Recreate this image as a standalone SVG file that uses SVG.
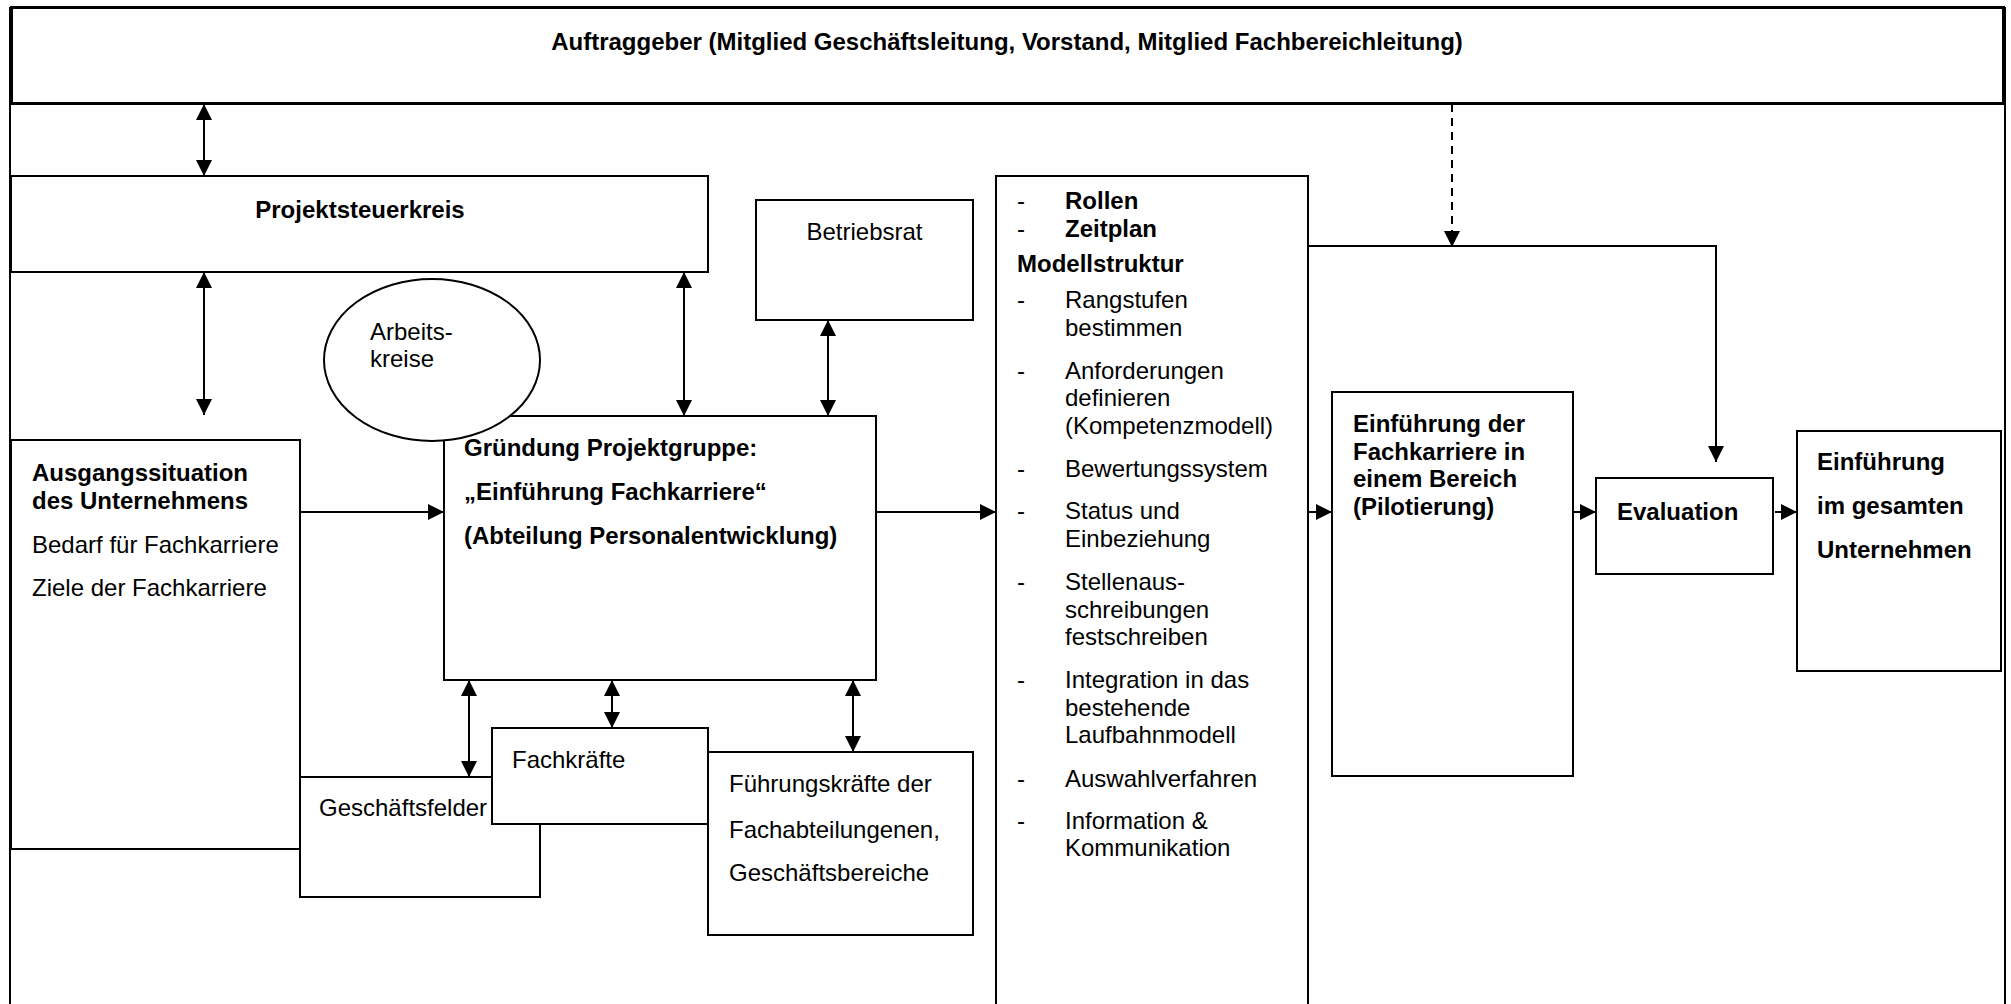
<svg xmlns="http://www.w3.org/2000/svg" width="2011" height="1004" viewBox="0 0 2011 1004">
  <defs>
    <style>
      text { font-family: "Liberation Sans", Arial, sans-serif; font-size: 24px; fill: #000; }
      .b { font-weight: bold; }
      .box { fill: #fff; stroke: #000; stroke-width: 2; }
      .ln { fill: none; stroke: #000; stroke-width: 2; }
      .dash { fill: none; stroke: #000; stroke-width: 2; stroke-dasharray: 8 6; }
    </style>
    <marker id="head" markerUnits="userSpaceOnUse" markerWidth="16" markerHeight="16" refX="16" refY="8" orient="auto-start-reverse">
      <path d="M0,0 L16,8 L0,16 z" fill="#000"/>
    </marker>
  </defs>
  <rect width="2011" height="1004" fill="#fff"/>

  <!-- outer frame sides running to the bottom edge -->
  <path class="ln" d="M10,7 V1004 M2005,7 V1004"/>

  <g id="auftraggeber">
    <rect x="11.5" y="7.5" width="1992" height="96" fill="#fff" stroke="#000" stroke-width="3"/>
    <text class="b" x="1007" y="50" text-anchor="middle">Auftraggeber (Mitglied Geschäftsleitung, Vorstand, Mitglied Fachbereichleitung)</text>
  </g>

  <g id="projektsteuerkreis">
    <rect class="box" x="11" y="176" width="697" height="96"/>
    <text class="b" x="360" y="218" text-anchor="middle">Projektsteuerkreis</text>
  </g>

  <g id="betriebsrat">
    <rect class="box" x="756" y="200" width="217" height="120"/>
    <text x="864.5" y="240" text-anchor="middle">Betriebsrat</text>
  </g>

  <g id="ausgangssituation">
    <rect class="box" x="11" y="440" width="289" height="409"/>
    <text class="b" x="32" y="481">Ausgangssituation</text>
    <text class="b" x="32" y="509">des Unternehmens</text>
    <text x="32" y="553">Bedarf für Fachkarriere</text>
    <text x="32" y="596">Ziele der Fachkarriere</text>
  </g>

  <g id="projektgruppe">
    <rect class="box" x="444" y="416" width="432" height="264"/>
    <text class="b" x="464" y="456">Gründung Projektgruppe:</text>
    <text class="b" x="464" y="500">„Einführung Fachkarriere“</text>
    <text class="b" x="464" y="544">(Abteilung Personalentwicklung)</text>
  </g>

  <g id="arbeitskreise">
    <ellipse cx="432" cy="360" rx="108" ry="81" fill="#fff" stroke="#000" stroke-width="2"/>
    <text x="370" y="340">Arbeits-</text>
    <text x="370" y="367">kreise</text>
  </g>

  <g id="geschaeftsfelder">
    <rect class="box" x="300" y="777" width="240" height="120"/>
    <text x="319" y="816">Geschäftsfelder</text>
  </g>

  <g id="fachkraefte">
    <rect class="box" x="492" y="728" width="216" height="96"/>
    <text x="512" y="768">Fachkräfte</text>
  </g>

  <g id="fuehrungskraefte">
    <rect class="box" x="708" y="752" width="265" height="183"/>
    <text x="729" y="792">Führungskräfte der</text>
    <text x="729" y="838">Fachabteilungenen,</text>
    <text x="729" y="881">Geschäftsbereiche</text>
  </g>

  <g id="modellstruktur">
    <path class="box" d="M996,1005 V176 H1308 V1005"/>
    <g>
      <text x="1017" y="209">-</text><text class="b" x="1065" y="209">Rollen</text>
      <text x="1017" y="237">-</text><text class="b" x="1065" y="237">Zeitplan</text>
      <text class="b" x="1017" y="272">Modellstruktur</text>
      <text x="1017" y="308">-</text><text x="1065" y="308">Rangstufen</text>
      <text x="1065" y="336">bestimmen</text>
      <text x="1017" y="379">-</text><text x="1065" y="379">Anforderungen</text>
      <text x="1065" y="406">definieren</text>
      <text x="1065" y="434">(Kompetenzmodell)</text>
      <text x="1017" y="477">-</text><text x="1065" y="477">Bewertungssystem</text>
      <text x="1017" y="519">-</text><text x="1065" y="519">Status und</text>
      <text x="1065" y="547">Einbeziehung</text>
      <text x="1017" y="590">-</text><text x="1065" y="590">Stellenaus-</text>
      <text x="1065" y="618">schreibungen</text>
      <text x="1065" y="645">festschreiben</text>
      <text x="1017" y="688">-</text><text x="1065" y="688">Integration in das</text>
      <text x="1065" y="716">bestehende</text>
      <text x="1065" y="743">Laufbahnmodell</text>
      <text x="1017" y="787">-</text><text x="1065" y="787">Auswahlverfahren</text>
      <text x="1017" y="829">-</text><text x="1065" y="829">Information &amp;</text>
      <text x="1065" y="856">Kommunikation</text>
    </g>
  </g>

  <g id="pilotierung">
    <rect class="box" x="1332" y="392" width="241" height="384"/>
    <text class="b" x="1353" y="432">Einführung der</text>
    <text class="b" x="1353" y="460">Fachkarriere in</text>
    <text class="b" x="1353" y="487">einem Bereich</text>
    <text class="b" x="1353" y="515">(Pilotierung)</text>
  </g>

  <g id="evaluation">
    <rect class="box" x="1596" y="478" width="177" height="96"/>
    <text class="b" x="1617" y="520">Evaluation</text>
  </g>

  <g id="gesamtunternehmen">
    <rect class="box" x="1797" y="431" width="204" height="240"/>
    <text class="b" x="1817" y="470">Einführung</text>
    <text class="b" x="1817" y="514">im gesamten</text>
    <text class="b" x="1817" y="558">Unternehmen</text>
  </g>

  <g id="connectors">
    <!-- two-way links -->
    <line class="ln" x1="204" y1="104" x2="204" y2="176" marker-start="url(#head)" marker-end="url(#head)"/>
    <line class="ln" x1="204" y1="272" x2="204" y2="415" marker-start="url(#head)" marker-end="url(#head)"/>
    <line class="ln" x1="684" y1="272" x2="684" y2="416" marker-start="url(#head)" marker-end="url(#head)"/>
    <line class="ln" x1="828" y1="320" x2="828" y2="416" marker-start="url(#head)" marker-end="url(#head)"/>
    <line class="ln" x1="469" y1="680" x2="469" y2="777" marker-start="url(#head)" marker-end="url(#head)"/>
    <line class="ln" x1="612" y1="680" x2="612" y2="728" marker-start="url(#head)" marker-end="url(#head)"/>
    <line class="ln" x1="853" y1="680" x2="853" y2="752" marker-start="url(#head)" marker-end="url(#head)"/>
    <!-- main flow -->
    <line class="ln" x1="300" y1="512" x2="444" y2="512" marker-end="url(#head)"/>
    <line class="ln" x1="876" y1="512" x2="996" y2="512" marker-end="url(#head)"/>
    <line class="ln" x1="1308" y1="512" x2="1332" y2="512" marker-end="url(#head)"/>
    <line class="ln" x1="1573" y1="512" x2="1596" y2="512" marker-end="url(#head)"/>
    <line class="ln" x1="1775" y1="512" x2="1797" y2="512" marker-end="url(#head)"/>
    <!-- feedback to evaluation -->
    <path class="ln" d="M1308,246 H1716 V462" marker-end="url(#head)"/>
    <!-- dashed link from the client -->
    <line class="dash" x1="1452" y1="104" x2="1452" y2="247" marker-end="url(#head)"/>
  </g>
</svg>
